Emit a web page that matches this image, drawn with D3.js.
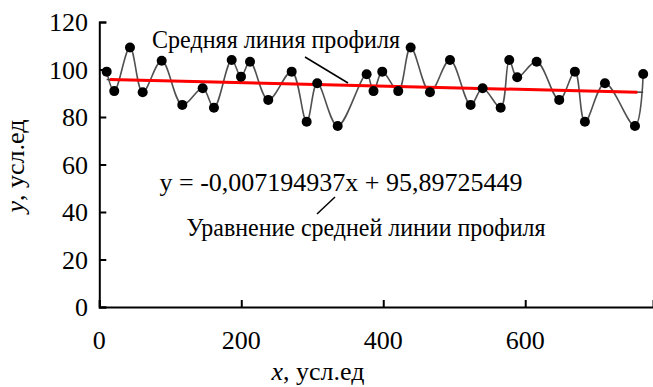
<!DOCTYPE html>
<html><head><meta charset="utf-8">
<script src="https://cdn.jsdelivr.net/npm/d3@7"></script>
<style>body{margin:0;background:#fff}svg{display:block}</style>
</head><body><svg id="c" width="653" height="387"></svg>
<script>
const profileX = [10.4,21.1,43.2,61.1,87.9,116.9,145.6,161.5,186.5,199.6,212.3,238,271,292.1,307,335.8,376.6,386.3,398.6,421.1,438.6,465.8,494,523.1,540,565.4,577.5,588.7,616.1,647.9,670,684.1,712.3,754.6,766.2];
const profileY = [99.1,90.9,109.3,90.4,103.7,85.1,92.1,83.9,104,97,103.3,87.2,99.1,78,94.2,76.2,98,90.9,99.1,90.9,109.3,90.4,104,85.1,92.1,83.9,104,96.7,103.3,87.2,99.1,78,94.2,76.2,98.1];
const xTicks = [0,200,400,600];
const yTicks = [0,20,40,60,80,100,120];
const trendSlope = -0.007194937;
const trendIntercept = 95.89725449;
const trendRedRange = [15, 758];
const eqText = "y = -0,007194937x + 95,89725449";
const label1 = "Средняя линия профиля";
const label2 = "Уравнение средней линии профиля";

const FONT = "Liberation Serif";
const svg = d3.select("#c");
const x = d3.scaleLinear().domain([0,780]).range([99.3,653]);
const y = d3.scaleLinear().domain([0,120]).range([307,22]);

// profile
const pts = profileX.map((v,i)=>[v,profileY[i]]);
svg.append("path").datum(pts).attr("fill","none").attr("stroke","#505050").attr("stroke-width",1.6)
  .attr("d",d3.line().x(d=>x(d[0])).y(d=>y(d[1])).curve(d3.curveCatmullRom.alpha(0.5)));

// trend lines
const ext = d3.extent(profileX);
svg.append("line").attr("x1",x(ext[0])).attr("x2",x(ext[1]))
  .attr("y1",y(trendIntercept+trendSlope*ext[0])).attr("y2",y(trendIntercept+trendSlope*ext[1]))
  .attr("stroke","#404040").attr("stroke-width",1.5);
svg.append("line").attr("x1",x(trendRedRange[0])).attr("x2",x(trendRedRange[1]))
  .attr("y1",y(trendIntercept+trendSlope*trendRedRange[0])).attr("y2",y(trendIntercept+trendSlope*trendRedRange[1]))
  .attr("stroke","#ff0000").attr("stroke-width",3);

svg.selectAll("circle.pt").data(pts).join("circle").attr("class","pt").attr("cx",d=>x(d[0])).attr("cy",d=>y(d[1])).attr("r",5).attr("fill","#000");

// axes
const yAx = svg.append("g").attr("transform",`translate(${x(0)},0)`)
  .call(d3.axisRight(y).tickValues(yTicks).tickSize(7).tickFormat(""));
const xAx = svg.append("g").attr("transform",`translate(0,${y(0)})`)
  .call(d3.axisTop(x).tickValues(xTicks).tickSize(7).tickFormat(""));
[yAx,xAx].forEach(g=>{g.select(".domain").attr("stroke","#000").attr("stroke-width",2);
  g.selectAll(".tick line").attr("stroke","#000").attr("stroke-width",2);});

function addText(px,py,anchor,size,content){
  return svg.append("text").attr("font-family",FONT).attr("font-size",size).attr("fill","#000")
    .attr("x",px).attr("y",py).attr("text-anchor",anchor).text(content);
}
yTicks.forEach(d=>addText(88,y(d)+9,"end",26,String(d)));
xTicks.forEach(d=>addText(x(d),349,"middle",26,String(d)));

// axis titles
const yt = svg.append("text").attr("font-family",FONT).attr("font-size",26).attr("fill","#000")
  .attr("transform","translate(24,166) rotate(-90)").attr("text-anchor","middle");
yt.append("tspan").attr("font-style","italic").text("y");
yt.append("tspan").text(", усл.ед");
const xt = svg.append("text").attr("font-family",FONT).attr("font-size",26).attr("fill","#000")
  .attr("x",318).attr("y",380).attr("text-anchor","middle");
xt.append("tspan").attr("font-style","italic").text("x");
xt.append("tspan").text(", усл.ед");

// annotations
addText(276,48,"middle",26,label1).attr("textLength",248).attr("lengthAdjust","spacingAndGlyphs");
svg.append("line").attr("x1",305).attr("y1",57).attr("x2",348).attr("y2",83).attr("stroke","#000").attr("stroke-width",1.5);
addText(341,191,"middle",26,eqText);
svg.append("line").attr("x1",335).attr("y1",197).attr("x2",317).attr("y2",214).attr("stroke","#000").attr("stroke-width",1.5);
addText(366,236,"middle",26,label2).attr("textLength",359).attr("lengthAdjust","spacingAndGlyphs");
</script></body></html>
